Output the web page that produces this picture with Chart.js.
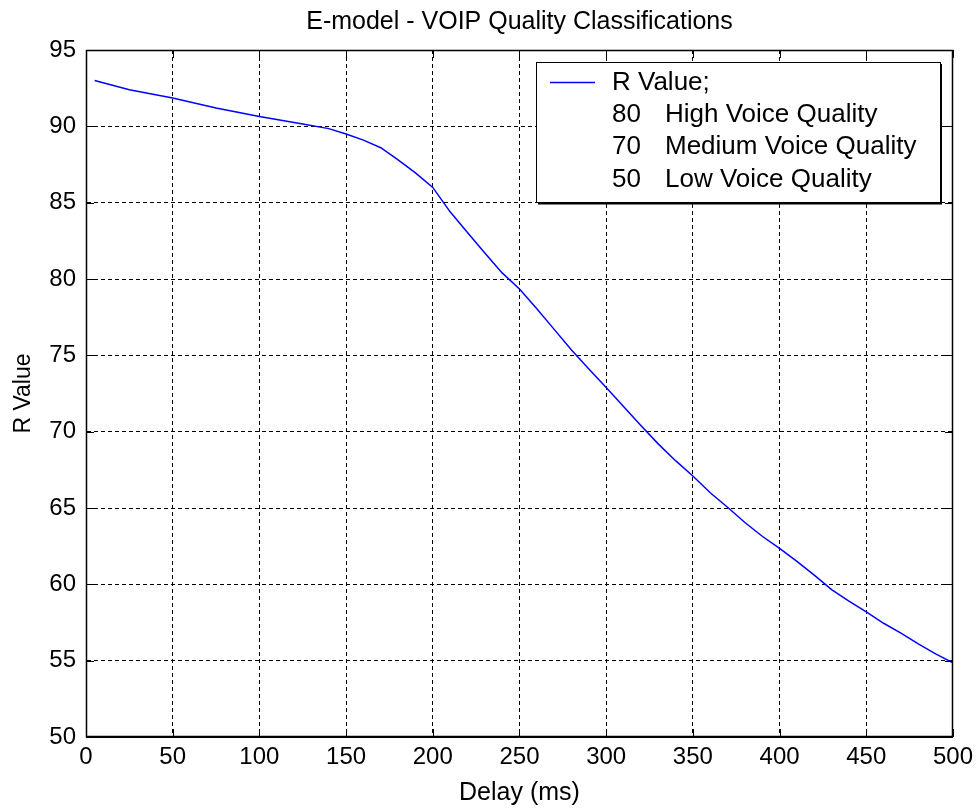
<!DOCTYPE html>
<html>
<head>
<meta charset="utf-8">
<script src="https://cdn.jsdelivr.net/npm/chart.js@4.4.0/dist/chart.umd.min.js"></script>
<style>
html, body { margin: 0; padding: 0; background: #fff; }
</style>
</head>
<body>
<canvas id="grafica" width="979" height="808"></canvas>
<script>
// Retardo (ms) y valor R
const retardo = [5, 25, 50, 75, 100, 125, 140, 150, 160, 170, 180, 190, 200, 210, 220, 230, 240, 250,
    260, 270, 280, 290, 300, 310, 320, 330, 340, 350, 360, 370, 380, 390, 400, 410, 420, 430,
    440, 450, 460, 470, 480, 490, 500];
const valorR = [93.0, 92.4, 91.85, 91.2, 90.65, 90.15, 89.85, 89.5, 89.1, 88.6, 87.8, 86.95, 86.0, 84.4,
    83.05, 81.7, 80.4, 79.35, 78.05, 76.7, 75.35, 74.1, 72.9, 71.65, 70.4, 69.2, 68.1, 67.1,
    66.0, 65.05, 64.05, 63.15, 62.35, 61.5, 60.6, 59.65, 58.9, 58.2, 57.45, 56.8, 56.1, 55.45, 54.85];

// Ejes y leyenda
const ticksX = [0, 50, 100, 150, 200, 250, 300, 350, 400, 450, 500];
const ticksY = [50, 55, 60, 65, 70, 75, 80, 85, 90, 95];
const nombreSerie = 'R Value;';
const umbrales = ['80', '70', '50'];
const calidades = ['High Voice Quality', 'Medium Voice Quality', 'Low Voice Quality'];

const FUENTE = "'Liberation Sans', Arial, sans-serif";

// Marco negro, marcas hacia dentro y leyenda al estilo MATLAB
const marcoMatlab = {
    id: 'marcoMatlab',
    afterDraw(chart) {
        const { ctx, chartArea: a } = chart;
        const x = chart.scales.x, y = chart.scales.y;
        ctx.save();
        ctx.setLineDash([]);
        ctx.strokeStyle = '#000';
        ctx.lineWidth = 1;

        ctx.beginPath();
        x.ticks.forEach(t => {
            const px = Math.round(x.getPixelForValue(t.value)) + 0.5;
            ctx.moveTo(px, a.top); ctx.lineTo(px, a.top + 8);
            ctx.moveTo(px, a.bottom); ctx.lineTo(px, a.bottom - 8);
        });
        y.ticks.forEach(t => {
            const py = Math.round(y.getPixelForValue(t.value)) + 0.5;
            ctx.moveTo(a.left, py); ctx.lineTo(a.left + 8, py);
            ctx.moveTo(a.right, py); ctx.lineTo(a.right - 8, py);
        });
        ctx.stroke();
        ctx.lineWidth = 1.5;
        ctx.strokeRect(Math.round(a.left) + 0.5, Math.round(a.top) + 0.5,
            Math.round(a.width) - 1, Math.round(a.height) - 1);

        // leyenda
        const L = Math.round(a.left) + 450, T = Math.round(a.top) + 12, W = 404, H = 140;
        ctx.fillStyle = '#fff';
        ctx.fillRect(L, T, W, H);
        ctx.lineWidth = 1;
        ctx.strokeRect(L + 0.5, T + 0.5, W, H);
        ctx.beginPath();
        ctx.lineWidth = 2;
        ctx.moveTo(L + W + 1, T + 2); ctx.lineTo(L + W + 1, T + H + 1.5); ctx.lineTo(L + 2, T + H + 1.5);
        ctx.stroke();

        ctx.strokeStyle = '#0000ff';
        ctx.lineWidth = 1.5;
        ctx.beginPath();
        ctx.moveTo(L + 14, T + 20.5); ctx.lineTo(L + 59, T + 20.5);
        ctx.stroke();

        ctx.fillStyle = '#000';
        ctx.font = '26px ' + FUENTE;
        ctx.textBaseline = 'middle';
        ctx.textAlign = 'left';
        ctx.fillText(nombreSerie, L + 76, T + 21);
        calidades.forEach((c, i) => {
            const ty = T + 53 + i * 32.3;
            ctx.fillText(umbrales[i], L + 76, ty);
            ctx.fillText(c, L + 129, ty);
        });
        ctx.restore();
    }
};

const ctx = document.getElementById('grafica').getContext('2d');
const chart = new Chart(ctx, {
    type: 'line',
    data: {
        datasets: [{
            label: nombreSerie,
            data: retardo.map((d, i) => ({ x: d, y: valorR[i] })),
            borderColor: '#0000ff',
            borderWidth: 1.5,
            pointRadius: 0,
            tension: 0,
            fill: false
        }]
    },
    options: {
        responsive: false,
        animation: false,
        devicePixelRatio: 1,
        layout: { padding: { left: 10, right: 24, top: 0, bottom: 0 } },
        plugins: {
            legend: { display: false },
            tooltip: { enabled: false },
            title: {
                display: true,
                text: 'E-model - VOIP Quality Classifications',
                fullSize: false,
                color: '#000',
                font: { family: FUENTE, size: 25, weight: 'normal' },
                padding: { top: 7, bottom: 13 }
            }
        },
        scales: {
            x: {
                type: 'linear',
                min: 0,
                max: 500,
                afterBuildTicks: s => { s.ticks = ticksX.map(v => ({ value: v })); },
                afterFit: s => { s.height = 71; },
                ticks: { color: '#000', font: { family: FUENTE, size: 24 }, padding: 6, maxRotation: 0 },
                grid: { color: '#000', lineWidth: 1, drawTicks: false },
                border: { color: '#000', width: 1, dash: [4, 3] },
                title: {
                    display: true,
                    text: 'Delay (ms)',
                    color: '#000',
                    font: { family: FUENTE, size: 25 },
                    padding: { top: 0, bottom: 0 }
                }
            },
            y: {
                min: 50,
                max: 95,
                afterBuildTicks: s => { s.ticks = ticksY.map(v => ({ value: v })); },
                afterFit: s => { s.width = 76; },
                ticks: { color: '#000', font: { family: FUENTE, size: 24 }, padding: 10 },
                grid: { color: '#000', lineWidth: 1, drawTicks: false },
                border: { color: '#000', width: 1, dash: [4, 3] },
                title: {
                    display: true,
                    text: 'R Value',
                    color: '#000',
                    font: { family: FUENTE, size: 23 },
                    padding: { top: 0, bottom: 0 }
                }
            }
        }
    },
    plugins: [marcoMatlab]
});
</script>
</body>
</html>
